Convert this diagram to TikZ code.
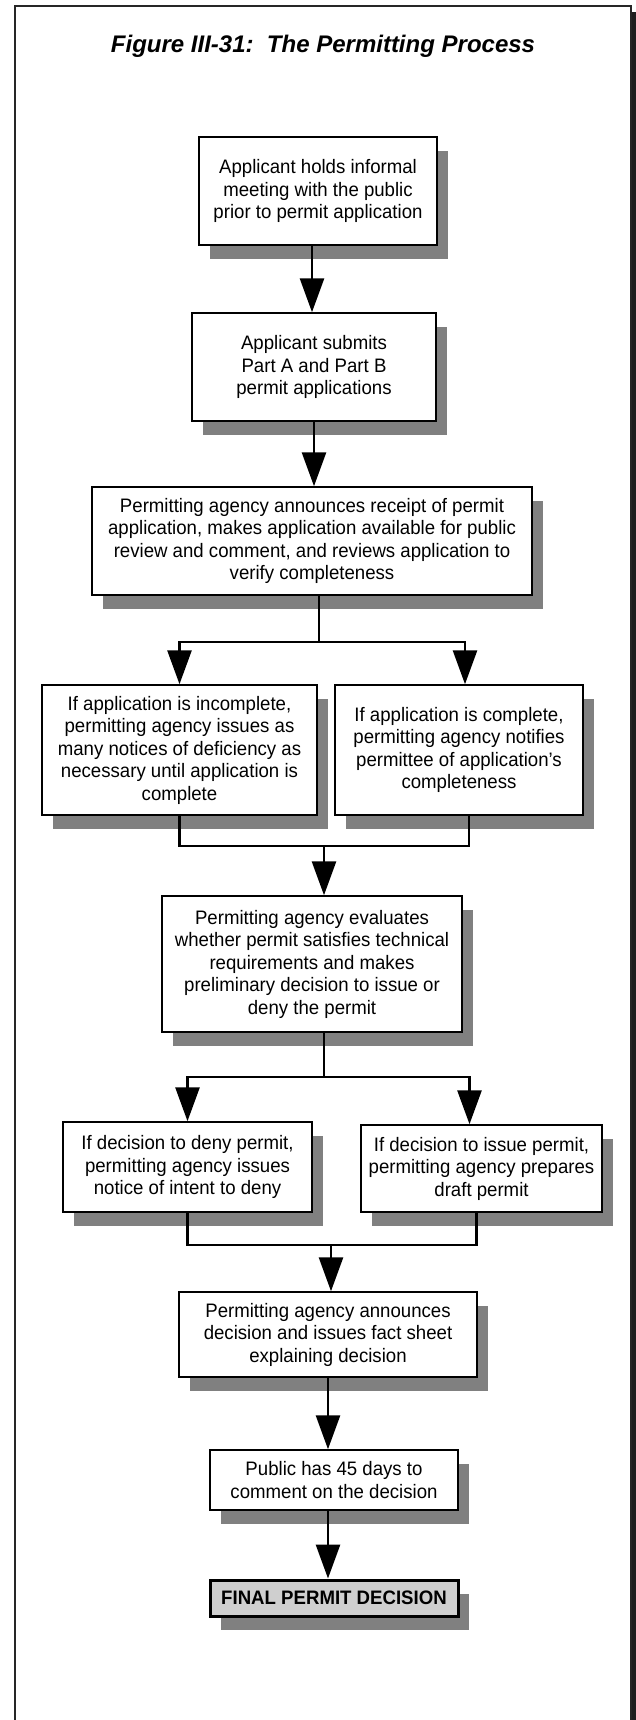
\documentclass[tikz,border=0pt]{standalone}
\usepackage{fontspec}
\setmainfont{Liberation Sans}[FakeStretch=0.955]
\newfontfamily\titrefont{Liberation Sans}
\usepackage{xcolor}
\usetikzlibrary{arrows.meta,calc,shadows}
\definecolor{ombre}{HTML}{808080}
\definecolor{finalgray}{HTML}{CFCFCF}

\begin{document}
\begin{tikzpicture}[
    x=1pt,y=-1pt,
    titre/.style  = {font=\titrefont\fontsize{24}{28}\selectfont\bfseries\itshape},
    stage/.style  = {rectangle,draw=black,line width=1.5pt,fill=white,
                     align=center,inner sep=2pt,
                     font=\fontsize{19.5}{22.5}\selectfont,
                     drop shadow={shadow xshift=11pt,shadow yshift=-14pt,
                                  fill=ombre,opacity=1}},
    verdict/.style= {stage,line width=3pt,fill=finalgray,
                     font=\fontsize{19.5}{22.5}\selectfont\bfseries},
    link/.style   = {black,line width=2.8pt},
    flow/.style   = {link,-{Triangle[width=24pt,length=34pt]}},
  ]
  \useasboundingbox (0,0) rectangle (636,1720);

  % ── Cadre et titre ────────────────────────────────────────────────────────
  \fill[black!88] (631.6,12) rectangle (640,1760);
  \draw[line width=1.8pt,black!85] (14.6,6) rectangle (630.7,1760);
  \node[titre] (titre) at (323,46) {Figure III-31:\ \ The Permitting Process};

  % ── Demande de permis ─────────────────────────────────────────────────────
  \node[stage,minimum width=238pt,minimum height=108pt] (meet) at (318,191)
       {Applicant holds informal\\meeting with the public\\prior to permit application};
  \node[stage,minimum width=244pt,minimum height=108pt] (subm) at (314,367)
       {Applicant submits\\Part A and Part B\\permit applications};
  \node[stage,minimum width=440pt,minimum height=108pt] (recv) at (312,541)
       {Permitting agency announces receipt of permit\\application, makes application available for public\\review and comment, and reviews application to\\verify completeness};

  \draw[flow] (meet.south -| 312,0) -- (subm.north -| 312,0);
  \draw[flow] (subm.south) -- (subm.south |- recv.north);

  % ── Verification de completude ────────────────────────────────────────────
  \node[stage,minimum width=275pt,minimum height=130pt] (inc) at (179.5,750)
       {If application is incomplete,\\permitting agency issues as\\many notices of deficiency as\\necessary until application is\\complete};
  \node[stage,minimum width=248pt,minimum height=130pt] (cmp) at (459,750)
       {If application is complete,\\permitting agency notifies\\permittee of application’s\\completeness};

  \coordinate (b1) at (319,642);
  \draw[link] (recv.south -| b1) -- (b1);
  \draw[flow] (b1) -| (inc.north);
  \draw[flow] (b1) -| ([xshift=6pt]cmp.north);

  % ── Evaluation et decision preliminaire ───────────────────────────────────
  \node[stage,minimum width=300pt,minimum height=136pt] (eval) at (312,964)
       {Permitting agency evaluates\\whether permit satisfies technical\\requirements and makes\\preliminary decision to issue or\\deny the permit};

  \coordinate (m1) at (324,846);
  \draw[link] (inc.south) |- (m1);
  \draw[link] ([xshift=10pt]cmp.south) |- (m1);
  \draw[flow] (m1) -- (m1 |- eval.north);

  \node[stage,minimum width=249pt,minimum height=90pt] (deny) at (187.5,1167)
       {If decision to deny permit,\\permitting agency issues\\notice of intent to deny};
  \node[stage,minimum width=241pt,minimum height=87pt] (issue) at (481.5,1168.5)
       {If decision to issue permit,\\permitting agency prepares\\draft permit};

  \coordinate (b2) at (324,1077);
  \draw[link] (eval.south -| b2) -- (b2);
  \draw[flow] (b2) -| (deny.north);
  \draw[flow] (b2) -| ([xshift=-12pt]issue.north);

  % ── Annonce, commentaires, decision finale ────────────────────────────────
  \node[stage,minimum width=298pt,minimum height=85pt] (anno) at (328,1334.5)
       {Permitting agency announces\\decision and issues fact sheet\\explaining decision};
  \node[stage,minimum width=248pt,minimum height=60pt] (pub) at (334,1480)
       {Public has 45 days to\\comment on the decision};
  \node[verdict,minimum width=248pt,minimum height=36pt] (fin) at (334,1598)
       {FINAL PERMIT DECISION};

  \coordinate (m2) at (331,1245);
  \draw[link] (deny.south) |- (m2);
  \draw[link] ([xshift=-5pt]issue.south) |- (m2);
  \draw[flow] (m2) -- (m2 |- anno.north);
  \draw[flow] (anno.south) -- (anno.south |- pub.north);
  \draw[flow] (pub.south -| anno.south) -- (fin.north -| anno.south);

\end{tikzpicture}
\end{document}
